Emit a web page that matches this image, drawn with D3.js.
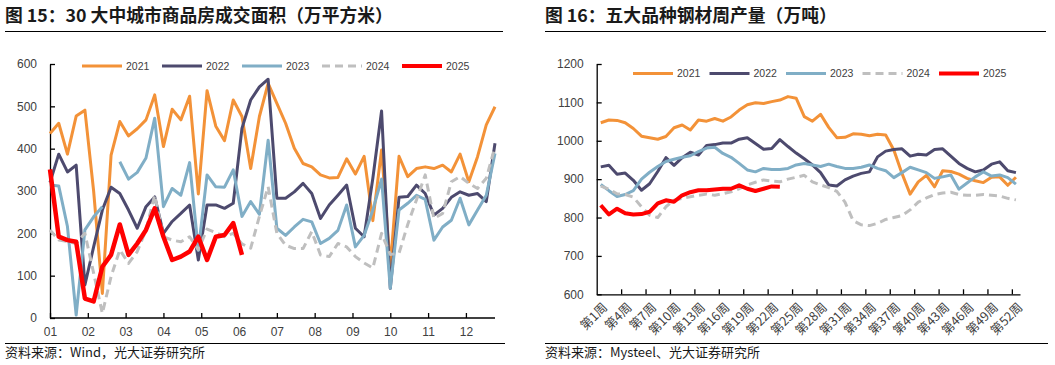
<!DOCTYPE html>
<html>
<head>
<meta charset="utf-8">
<script src="https://cdn.jsdelivr.net/npm/d3@7"></script>
<style>
    body { margin: 0; background: #fff; }
    text { font-family: "Liberation Sans", Arial, sans-serif; }
    .cjk { font-family: "Noto Sans CJK SC", sans-serif; }
</style>
</head>
<body>
<script>
// ---------------- data ----------------
var years = ["2021", "2022", "2023", "2024", "2025"];
var monthLabels = ["01", "02", "03", "04", "05", "06", "07", "08", "09", "10", "11", "12"];
var areaTicks = [0, 100, 200, 300, 400, 500, 600];

// 30 大中城市商品房成交面积, weekly
var area2021 = [436, 460, 387, 477, 491, 300, 58, 385, 464, 430, 447, 468, 527, 405, 493, 468, 524, 293, 537, 453, 419, 515, 476, 353, 476, 554,
    507, 460, 401, 365, 357, 338, 331, 332, 376, 340, 382, 230, 397, 121, 382, 334, 353, 357, 353, 361, 345, 387, 322, 381, 456, 499];
var area2022 = [320, 387, 345, 361, 78, 168, 255, 309, 294, 255, 212, 263, 286, 200, 228, 247, 267, 137, 267, 267, 259, 271, 448, 515, 546, 564,
    283, 283, 298, 318, 294, 235, 267, 290, 314, 212, 192, 330, 489, 70, 285, 287, 314, 294, 243, 259, 285, 298, 290, 294, 275, 413];
var area2023 = [314, 312, 216, 7, 208, 239, 263, null, 369, 328, 344, 378, 472, 263, 306, 290, 367, 160, 338, 310, 309, 350, 240, 275, 245, 420,
    212, 195, 215, 233, 227, 176, 188, 207, 267, 168, 195, 255, 328, 70, 255, 271, 290, 280, 184, 215, 231, 283, 220, 255, 290, 389];
var area2024 = [208, 184, 181, 176, 200, 106, 11, 98, 161, 129, 157, 208, 290, 192, 184, 180, 192, 161, 210, 202, 192, 200, 175, 165, 240, 310,
    200, 172, 164, 164, 204, 149, 145, 176, 168, 145, 130, 118, 200, 150, 153, 221, 279, 338, 235, 247, 322, 334, 318, 306, 330, 405];
var area2025 = [351, 192, 184, 180, 46, 39, 121, 149, 221, 149, 176, 208, 259, 192, 137, 145, 157, 192, 137, 192, 196, 224, 149];

// 五大品种钢材周产量, weekly
var steelTicks = [600, 700, 800, 900, 1000, 1100, 1200];
var steel2021 = [1047, 1054, 1053, 1047, 1032, 1012, 1008, 1004, 1011, 1034, 1041, 1028, 1054, 1051, 1058, 1051, 1062, 1080, 1094, 1099, 1097, 1102, 1106, 1115, 1111,
    1063, 1051, 1069, 1035, 1008, 1009, 1018, 1017, 1013, 1017, 1015, 976, 915, 861, 893, 910, 880, 922, 920, 913, 902, 896, 891, 905, 906, 884, 905];
var steel2022 = [932, 936, 913, 916, 897, 871, 888, 920, 956, 936, 956, 970, 963, 988, 990, 994, 994, 1004, 1008, 993, 978, 980, 1003, 985, 968,
    953, 937, 917, 885, 882, 898, 908, 915, 919, 958, 973, 977, 979, 960, 965, 963, 977, 979, 960, 941, 928, 919, 924, 939, 945, 922, 917];
var steel2023 = [886, 870, 855, 860, 870, 900, 918, 933, 946, 952, 957, 961, 972, 981, 983, 967, 957, 941, 924, 919, 928, 925, 925, 928, 937,
    941, 937, 933, 939, 933, 928, 928, 931, 937, 928, 922, 904, 917, 931, 924, 917, 902, 906, 911, 874, 890, 906, 919, 908, 911, 904, 887];
var steel2024 = [882, 874, 862, 860, 853, 828, 806, 800, 828, 845, 850, 854, 858, 861, 858, 862, 867, 875, 885, 892, 898, 895, 893, 900, 905,
    910, 893, 885, 878, 868, 840, 792, 781, 779, 785, 795, 800, 805, 820, 840, 851, 860, 864, 866, 860, 858, 858, 860, 858, 856, 850, 846];
var steel2025 = [832, 808, 823, 811, 808, 809, 815, 837, 845, 841, 858, 866, 871, 871, 873, 875, 875, 884, 875, 869, 875, 881, 880];

var areaSeries = [area2021, area2022, area2023, area2024, area2025];
var steelSeries = [steel2021, steel2022, steel2023, steel2024, steel2025];

// ---------------- styles ----------------
var colors = ["#f39238", "#4d4a6e", "#80aec6", "#bfbfbf", "#ff0000"];
var widths = [3, 3, 3, 3, 4.5];
var dashes = [null, null, null, "8,5", null];
var textColor = "#404040";

var svg = d3.select("body")
    .append("svg")
    .attr("width", 1055)
    .attr("height", 365);

// titles, rules and sources
function frame(x0, x1, title, source) {
    svg.append("text")
        .attr("class", "cjk")
        .attr("x", x0)
        .attr("y", 22)
        .attr("font-size", "17.8px")
        .attr("font-weight", "bold")
        .attr("fill", "#1a1a1a")
        .text(title);
    svg.append("line")
        .attr("x1", x0).attr("x2", x1)
        .attr("y1", 31.5).attr("y2", 31.5)
        .attr("stroke", "#000").attr("stroke-width", 1);
    svg.append("line")
        .attr("x1", x0).attr("x2", x1 + 2)
        .attr("y1", 343.5).attr("y2", 343.5)
        .attr("stroke", "#000").attr("stroke-width", 1);
    svg.append("text")
        .attr("class", "cjk")
        .attr("x", x0)
        .attr("y", 357)
        .attr("font-size", "13px")
        .attr("fill", "#1a1a1a")
        .text(source);
}
frame(5, 503, "图 15：30 大中城市商品房成交面积（万平方米）", "资料来源：Wind，光大证券研究所");
frame(545, 1046, "图 16：五大品种钢材周产量（万吨）", "资料来源：Mysteel、光大证券研究所");

function legend(x0, y, step) {
    var g = svg.append("g").attr("transform", `translate(${x0}, ${y})`);
    years.forEach(function (yr, k) {
        g.append("line")
            .attr("x1", k * step).attr("x2", k * step + 40)
            .attr("y1", 0).attr("y2", 0)
            .attr("stroke", colors[k])
            .attr("stroke-width", widths[k] === 4.5 ? 4 : 3)
            .attr("stroke-dasharray", dashes[k]);
        g.append("text")
            .attr("x", k * step + 44)
            .attr("y", 0)
            .attr("dy", "0.35em")
            .attr("font-size", "10.5px")
            .attr("fill", textColor)
            .text(yr);
    });
}

function styleAxis(g) {
    g.select(".domain").attr("stroke", "#000").attr("stroke-width", 1.3);
    g.selectAll(".tick line").attr("stroke", "#000").attr("stroke-width", 1.3);
    g.selectAll(".tick text").attr("fill", textColor).attr("font-size", "12px")
        .style("font-family", "'Liberation Sans', Arial, sans-serif");
}

// ---------------- left chart ----------------
var xArea = d3.scaleLinear().domain([0, 51]).range([50, 495]);
var yArea = d3.scaleLinear().domain([0, 600]).range([318, 64]);

var leftY = svg.append("g")
    .attr("transform", "translate(50,0)")
    .call(d3.axisLeft(yArea).tickValues(areaTicks).tickSizeInner(-5).tickSizeOuter(0).tickPadding(13)
        .tickFormat(d3.format("d")));
styleAxis(leftY);

var monthPos = monthLabels.map(function (m, k) { return k * 52 / 12; });
var leftX = svg.append("g")
    .attr("transform", "translate(0,318)")
    .call(d3.axisBottom(xArea).tickValues(monthPos).tickSizeInner(-5).tickSizeOuter(0).tickPadding(9)
        .tickFormat(function (d, k) { return monthLabels[k]; }));
styleAxis(leftX);
leftX.select(".domain").attr("d", "M50,0H495");

var areaLine = d3.line()
    .defined(function (d) { return d != null; })
    .x(function (d, k) { return xArea(k); })
    .y(function (d) { return yArea(d); });

areaSeries.forEach(function (s, k) {
    svg.append("path")
        .datum(s)
        .attr("fill", "none")
        .attr("stroke", colors[k])
        .attr("stroke-width", widths[k])
        .attr("stroke-dasharray", dashes[k])
        .attr("stroke-linejoin", "round")
        .attr("d", areaLine);
});
legend(82, 66, 80);

// ---------------- right chart ----------------
var xSteel = d3.scaleLinear().domain([0, 52]).range([596.7, 1020]);
var ySteel = d3.scaleLinear().domain([600, 1200]).range([294.3, 64]);

var rightY = svg.append("g")
    .attr("transform", "translate(596.7,0)")
    .call(d3.axisLeft(ySteel).tickValues(steelTicks).tickSizeInner(-5).tickSizeOuter(0).tickPadding(13)
        .tickFormat(d3.format("d")));
styleAxis(rightY);

// tick marks between every third week
var weekBounds = d3.range(3, 52, 3);
var rightX = svg.append("g")
    .attr("transform", "translate(0,294.3)")
    .call(d3.axisBottom(xSteel).tickValues(weekBounds).tickSizeInner(-5).tickSizeOuter(0).tickFormat(""));
styleAxis(rightX);

// week labels, every third week, rotated
var weekLabels = d3.range(1, 53, 3);
var rightXLabels = svg.append("g")
    .attr("transform", "translate(0,294.3)")
    .call(d3.axisBottom(xSteel).tickValues(weekLabels.map(function (w) { return w - 0.5; }))
        .tickSize(0).tickFormat(function (d) { return "第" + (d + 0.5) + "周"; }));
rightXLabels.select(".domain").remove();
rightXLabels.selectAll(".tick text")
    .attr("class", "cjk")
    .attr("fill", textColor)
    .attr("font-size", "12.5px")
    .attr("text-anchor", "end")
    .attr("dy", null)
    .attr("y", 0)
    .attr("transform", "translate(3,10) rotate(-45)")
    .attr("dominant-baseline", "central");

var steelLine = d3.line()
    .x(function (d, k) { return xSteel(k + 0.5); })
    .y(function (d) { return ySteel(d); });

steelSeries.forEach(function (s, k) {
    svg.append("path")
        .datum(s)
        .attr("fill", "none")
        .attr("stroke", colors[k])
        .attr("stroke-width", k === 4 ? 4 : 3)
        .attr("stroke-dasharray", dashes[k])
        .attr("stroke-linejoin", "round")
        .attr("d", steelLine);
});
legend(633, 73.5, 76.5);
</script>
</body>
</html>
